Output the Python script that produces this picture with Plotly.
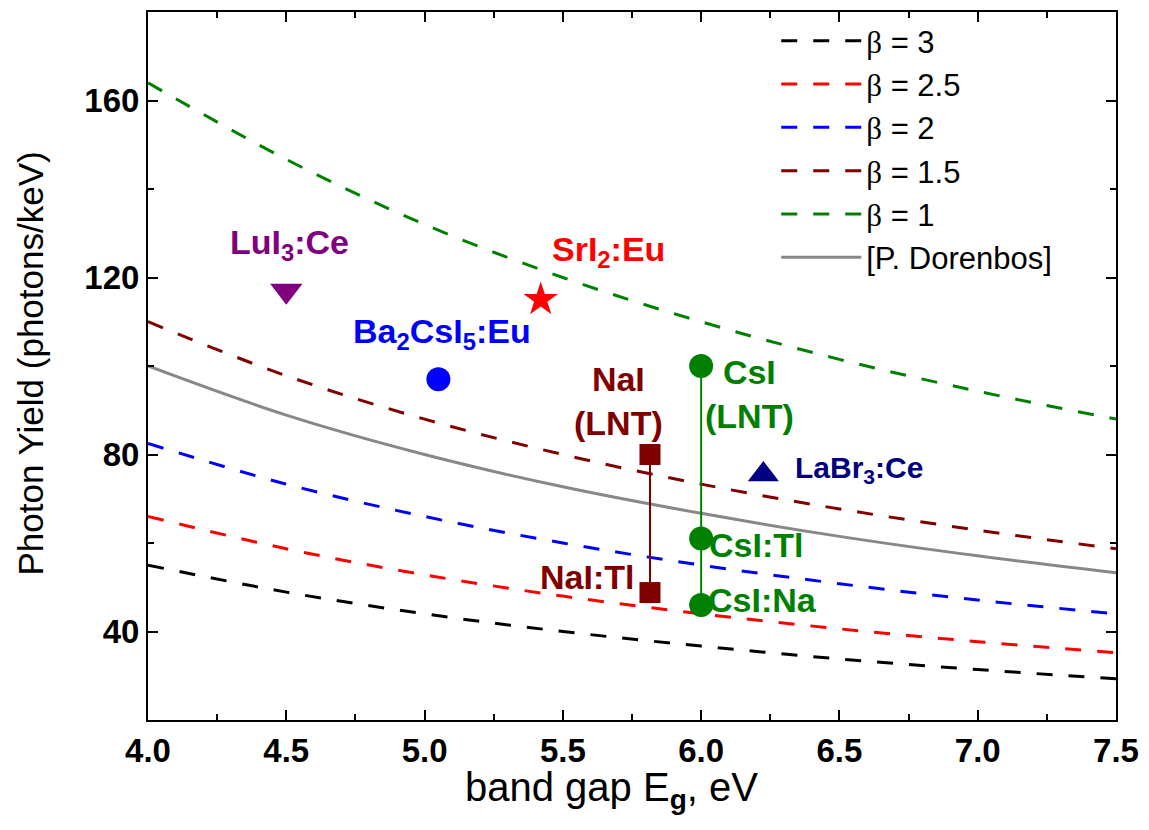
import plotly.graph_objects as go

eg = [4.0, 4.5, 5.0, 5.5, 6.0, 6.5, 7.0, 7.5]

beta_labels = ["3", "2.5", "2", "1.5", "1"]
beta3 = [55.0, 48.9, 44.0, 40.0, 36.7, 33.8, 31.4, 29.3]
beta25 = [66.0, 58.7, 52.8, 48.0, 44.0, 40.6, 37.7, 35.2]
beta2 = [82.5, 73.3, 66.0, 60.0, 55.0, 50.8, 47.1, 44.0]
beta15 = [110.0, 97.8, 88.0, 80.0, 73.3, 67.7, 62.9, 58.7]
beta1 = [164.0, 146.7, 132.0, 120.0, 110.0, 101.5, 94.3, 88.0]
dorenbos = [100.0, 88.9, 80.0, 72.7, 66.7, 61.5, 57.1, 53.3]

beta_series = [beta3, beta25, beta2, beta15, beta1]
beta_colors = ["#000000", "#FF0000", "#0000FF", "#800000", "#008000"]

# measured scintillators
lui_x, lui_y = [4.5], [117]
sri_x, sri_y = [5.42], [115]
ba_x, ba_y = [5.05], [97]
nai_x, nai_y = [5.815, 5.815], [80, 48.8]
csi_x, csi_y = [6.0, 6.0, 6.0], [100, 61, 46]
labr_x, labr_y = [6.225], [75.5]

fig = go.Figure()

for lab, ys, col in zip(beta_labels, beta_series, beta_colors):
    fig.add_trace(go.Scatter(
        x=eg, y=ys, mode="lines", line=dict(color=col, width=3, dash="16px,16px", shape="spline"),
        name="<span style='font-family:Liberation Serif'>β</span> = " + lab,
        legendgroup=lab, showlegend=True))

fig.add_trace(go.Scatter(
    x=eg, y=dorenbos, mode="lines", line=dict(color="#888888", width=3, shape="spline"),
    name="[P. Dorenbos]", legendgroup="dor"))

fig.add_trace(go.Scatter(x=nai_x, y=nai_y, mode="lines+markers",
                         line=dict(color="#800000", width=2),
                         marker=dict(symbol="square", size=21, color="#800000"),
                         showlegend=False))
fig.add_trace(go.Scatter(x=csi_x, y=csi_y, mode="lines+markers",
                         line=dict(color="#008000", width=2),
                         marker=dict(symbol="circle", size=24, color="#008000"),
                         showlegend=False))
fig.add_trace(go.Scatter(x=lui_x, y=lui_y, mode="markers",
                         marker=dict(symbol="triangle-down", size=28, color="#800080"),
                         showlegend=False))
fig.add_trace(go.Scatter(x=sri_x, y=sri_y, mode="markers",
                         marker=dict(symbol="star", size=26, color="#FF0000", line=dict(width=0)),
                         showlegend=False))
fig.add_trace(go.Scatter(x=ba_x, y=ba_y, mode="markers",
                         marker=dict(symbol="circle", size=24, color="#0000FF"),
                         showlegend=False))
fig.add_trace(go.Scatter(x=labr_x, y=labr_y, mode="markers",
                         marker=dict(symbol="triangle-up", size=27, color="#000080"),
                         showlegend=False))

fam = "Liberation Sans, Arial, sans-serif"
ann = [
    (4.51, 127.4, "LuI<sub>3</sub>:Ce", "#800080", 34),
    (5.664, 125.8, "SrI<sub>2</sub>:Eu", "#FF0000", 34),
    (5.062, 107.4, "Ba<sub>2</sub>CsI<sub>5</sub>:Eu", "#0000FF", 34),
    (5.70, 92.1, "NaI<br>(LNT)", "#800000", 34),
    (5.588, 52.4, "NaI:Tl", "#800000", 34),
    (6.175, 93.7, "CsI<br>(LNT)", "#008000", 34),
    (6.20, 59.6, "CsI:Tl", "#008000", 34),
    (6.222, 47.2, "CsI:Na", "#008000", 34),
    (6.571, 76.6, "LaBr<sub>3</sub>:Ce", "#000080", 30),
]
for x, y, t, c, s in ann:
    fig.add_annotation(x=x, y=y, text="<b>" + t.replace("<br>", "</b><br><b>") + "</b>",
                       showarrow=False, font=dict(family=fam, size=s, color=c),
                       xanchor="center", yanchor="middle")

# axis titles as annotations for exact placement
fig.add_annotation(xref="paper", yref="paper", x=(613 - 148) / 972, y=-(790 - 720) / 710,
                   text="band gap E<sub><b>g</b></sub>, eV", showarrow=False,
                   font=dict(family=fam, size=40, color="black"),
                   xanchor="center", yanchor="middle")
fig.add_annotation(xref="paper", yref="paper", x=-(148 - 30) / 972, y=(720 - 362) / 710,
                   text="Photon Yield (photons/keV)", showarrow=False, textangle=-90,
                   font=dict(family=fam, size=35, color="black"),
                   xanchor="center", yanchor="middle")

axis_common = dict(showline=True, linecolor="black", linewidth=2, mirror="ticks",
                   ticks="inside", ticklen=10, tickwidth=2, tickcolor="black",
                   showgrid=False, zeroline=False,
                   tickfont=dict(family=fam, size=33, color="black", weight="bold"))

fig.update_xaxes(range=[4.0, 7.5], dtick=0.5, tick0=4.0, tickformat=".1f",
                 minor=dict(ticks="inside", ticklen=6, tickwidth=2, dtick=0.25, tickcolor="black"),
                 **axis_common)
fig.update_yaxes(range=[20, 180], dtick=40, tick0=0,
                 minor=dict(ticks="inside", ticklen=6, tickwidth=2, dtick=20, tickcolor="black"),
                 **axis_common)

fig.update_layout(
    width=1149, height=830,
    margin=dict(l=148, r=29, t=10, b=110),
    plot_bgcolor="white", paper_bgcolor="white",
    font=dict(family=fam, color="black"),
    legend=dict(x=0.649, y=0.997, xanchor="left", yanchor="top",
                font=dict(family=fam, size=31, color="black"),
                bgcolor="rgba(0,0,0,0)", traceorder="grouped", tracegroupgap=0,
                itemwidth=80),
)

fig.write_html("out.html")
